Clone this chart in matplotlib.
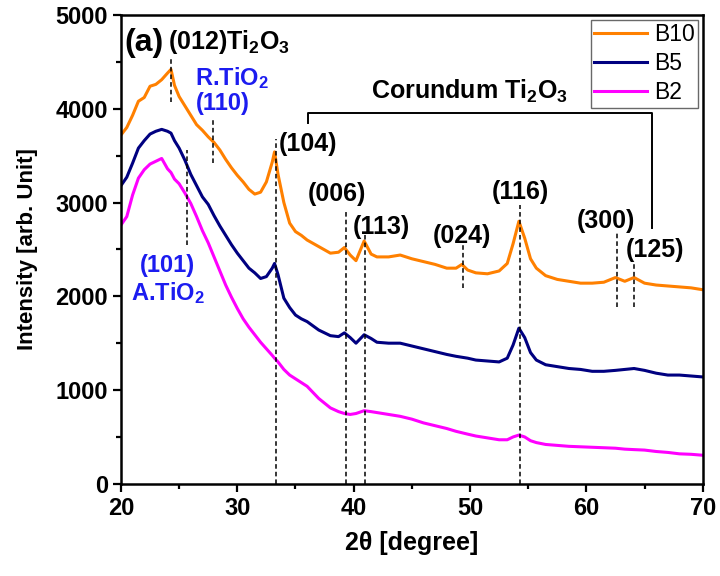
import matplotlib
matplotlib.use("Agg")
import matplotlib.pyplot as plt
from matplotlib.ticker import MultipleLocator

plt.rcParams['font.family'] = ['Liberation Sans', 'DejaVu Sans']
plt.rcParams['mathtext.fontset'] = 'custom'
plt.rcParams['mathtext.rm'] = 'Liberation Sans:bold'
plt.rcParams['mathtext.it'] = 'Liberation Sans:bold'
plt.rcParams['mathtext.bf'] = 'Liberation Sans:bold'

# XRD patterns (2theta in degree, intensity in arb. units)
two_theta = [20.0, 20.5, 21.0, 21.5, 22.0, 22.5, 23.0, 23.5, 24.0, 24.3, 24.6, 25.0,
             25.5, 26.0, 26.5, 27.0, 27.5, 28.0, 28.5, 29.0, 29.5, 30.0, 30.5, 31.0,
             31.5, 32.0, 32.5, 33.0, 33.2, 33.5, 34.0, 34.5, 35.0, 35.5, 36.0, 37.0,
             38.0, 38.7, 39.2, 39.7, 40.2, 40.9, 41.5, 42.0, 43.0, 44.0, 45.0, 46.0,
             47.0, 48.0, 48.8, 49.3, 49.8, 50.5, 51.5, 52.5, 53.2, 53.7, 54.2, 54.7,
             55.2, 55.7, 56.5, 57.5, 58.5, 59.5, 60.5, 61.5, 62.5, 63.3, 64.1, 65.0,
             66.0, 67.0, 68.0, 69.0, 70.0]

b10 = [3720, 3800, 3930, 4080, 4120, 4240, 4260, 4310, 4380, 4420, 4250, 4130,
       4030, 3930, 3830, 3770, 3700, 3640, 3560, 3460, 3370, 3290, 3220, 3140,
       3090, 3110, 3220, 3430, 3540, 3300, 3000, 2780, 2690, 2650, 2600, 2530,
       2460, 2470, 2520, 2440, 2380, 2590, 2450, 2420, 2420, 2440, 2400, 2370,
       2340, 2300, 2300, 2340, 2280, 2250, 2240, 2270, 2350, 2560, 2800, 2620,
       2400, 2300, 2220, 2180, 2160, 2140, 2140, 2150, 2200, 2160, 2200, 2140,
       2120, 2110, 2100, 2090, 2070]

b5 = [3180, 3270, 3420, 3580, 3660, 3730, 3760, 3780, 3760, 3740, 3660, 3580,
      3450, 3300, 3180, 3060, 2980, 2860, 2750, 2650, 2550, 2460, 2380, 2300,
      2250, 2190, 2210, 2300, 2350, 2230, 1980, 1880, 1800, 1760, 1730, 1640,
      1580, 1570, 1610, 1560, 1500, 1590, 1550, 1510, 1500, 1500, 1470, 1440,
      1410, 1380, 1360, 1350, 1340, 1320, 1310, 1300, 1340, 1480, 1660, 1560,
      1400, 1320, 1270, 1250, 1230, 1220, 1200, 1200, 1210, 1220, 1230, 1210,
      1180, 1160, 1160, 1150, 1140]

b2 = [2760, 2850, 3080, 3260, 3350, 3410, 3440, 3470, 3360, 3320, 3250, 3200,
      3100, 2990, 2850, 2700, 2570, 2420, 2270, 2120, 1990, 1870, 1760, 1670,
      1590, 1510, 1440, 1370, 1340, 1300, 1220, 1160, 1120, 1080, 1040, 910,
      810, 770, 750, 740, 750, 780, 770, 760, 740, 720, 690, 650,
      620, 590, 560, 545, 530, 510, 490, 470, 470, 500, 520, 500,
      460, 440, 420, 410, 400, 395, 390, 385, 380, 370, 365, 360,
      345, 335, 320, 315, 305]

# reflection markers: (position, lower, upper)
markers = [(24.3, 4072, 4552), (27.95, 3422, 3902), (25.66, 2548, 3560),
           (33.3, 0, 3678), (39.35, 0, 2932), (41.0, 0, 2686), (49.4, 2089, 2558),
           (54.3, 0, 2974), (62.6, 1887, 2686), (64.1, 1887, 2356)]

hkl = [("(104)", 33.57, 3624), ("(006)", 36.07, 3091), ("(113)", 39.93, 2734),
       ("(024)", 46.8, 2644), ("(116)", 51.85, 3112), ("(300)", 59.15, 2804),
       ("(125)", 63.39, 2494)]

fig = plt.figure(figsize=(7.2, 5.76), dpi=100)
ax = fig.add_axes([0.168, 0.160, 0.808, 0.814])

ax.plot(two_theta, b10, color='#ff8000', lw=2.2, label='B10')
ax.plot(two_theta, b5, color='#000080', lw=2.2, label='B5')
ax.plot(two_theta, b2, color='#ff00ff', lw=2.2, label='B2')

for xpos, y0, y1 in markers:
    ax.plot([xpos, xpos], [y0, y1], color='black', lw=1.1, ls=(0, (3, 2)))

ax.set_xlim(20, 70)
ax.set_ylim(0, 5000)
ax.xaxis.set_major_locator(MultipleLocator(10))
ax.xaxis.set_minor_locator(MultipleLocator(5))
ax.yaxis.set_major_locator(MultipleLocator(1000))
ax.yaxis.set_minor_locator(MultipleLocator(500))
ax.tick_params(which='major', direction='out', length=6, width=1.6, labelsize=17)
ax.tick_params(which='minor', direction='out', length=3.5, width=1.6)
for lab in ax.get_xticklabels() + ax.get_yticklabels():
    lab.set_fontweight('bold')
for sp in ax.spines.values():
    sp.set_linewidth(1.8)

ax.set_xlabel('2θ [degree]', fontsize=18, fontweight='bold', labelpad=8)
ax.set_ylabel('Intensity [arb. Unit]', fontsize=16, fontweight='bold', labelpad=12)

# labels
ax.text(20.3, 4700, '(a)', fontsize=23, fontweight='bold', va='center', ha='left')
ax.text(24.05, 4712, r'(012)Ti$_2$O$_3$', fontsize=18, fontweight='bold', va='center', ha='left')
blue = '#1c1cf0'
ax.text(26.36, 4330, r'R.TiO$_2$', fontsize=17, fontweight='bold', color=blue, va='center', ha='left')
ax.text(26.45, 4060, '(110)', fontsize=17, fontweight='bold', color=blue, va='center', ha='left')
ax.text(21.6, 2324, '(101)', fontsize=17, fontweight='bold', color=blue, va='center', ha='left')
ax.text(20.9, 2036, r'A.TiO$_2$', fontsize=17, fontweight='bold', color=blue, va='center', ha='left')
for txt, xpos, ypos in hkl:
    ax.text(xpos, ypos, txt, fontsize=18, fontweight='bold', va='center', ha='left')

# corundum bracket
ax.plot([36.09, 36.09, 65.68, 65.68], [3848, 3952, 3952, 2732], color='black', lw=1.4)
ax.text(49.98, 4180, r'Corundum Ti$_2$O$_3$', fontsize=18, fontweight='bold', ha='center', va='center')

leg = ax.legend(loc='upper right', fontsize=16.5, frameon=True, fancybox=False,
                handlelength=2.3, borderaxespad=0.2, labelspacing=0.27,
                handletextpad=0.3, borderpad=0.15)
leg.get_frame().set_edgecolor('#444444')
leg.get_frame().set_linewidth(1.0)

fig.savefig('out.png', dpi=100)
